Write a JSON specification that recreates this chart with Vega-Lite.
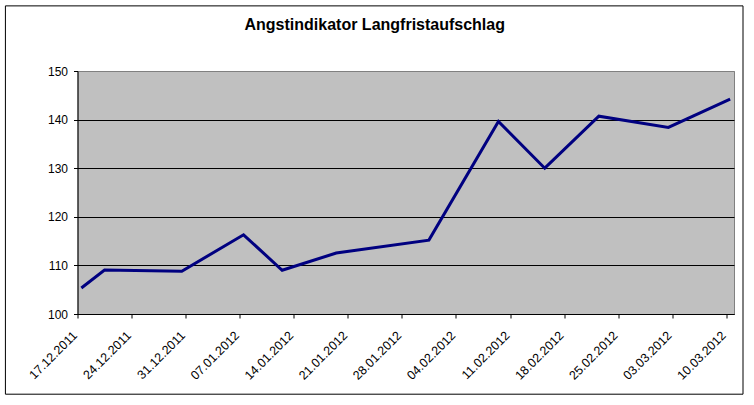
{
  "$schema": "https://vega.github.io/schema/vega-lite/v6.json",
  "width": 656.5,
  "height": 243,
  "autosize": "none",
  "padding": {"left": 77.5, "top": 71, "right": 20, "bottom": 91},
  "background": "white",
  "title": {
    "text": "Angstindikator Langfristaufschlag",
    "font": "Liberation Sans",
    "fontSize": 16,
    "fontWeight": "bold",
    "color": "black",
    "anchor": "middle",
    "frame": "group",
    "dx": -31,
    "offset": -41,
    "baseline": "alphabetic"
  },
  "layer": [
    {
      "data": {
        "values": [
          {"Datum": "17.12.2011", "Wert": 105.35},
          {"Datum": "20.12.2011", "Wert": 109.05},
          {"Datum": "30.12.2011", "Wert": 108.8},
          {"Datum": "07.01.2012", "Wert": 116.3},
          {"Datum": "12.01.2012", "Wert": 109.0},
          {"Datum": "19.01.2012", "Wert": 112.55},
          {"Datum": "31.01.2012", "Wert": 115.2},
          {"Datum": "09.02.2012", "Wert": 139.6},
          {"Datum": "15.02.2012", "Wert": 130.0},
          {"Datum": "22.02.2012", "Wert": 140.7},
          {"Datum": "02.03.2012", "Wert": 138.4},
          {"Datum": "10.03.2012", "Wert": 144.2}
        ],
        "format": {"parse": {"Datum": "date:'%d.%m.%Y'"}}
      },
      "mark": {"type": "line", "color": "#000080", "strokeWidth": 3},
      "encoding": {
        "x": {
          "field": "Datum",
          "type": "temporal",
          "timeUnit": "yearmonthdate",
          "bandPosition": 0.5,
          "title": null,
          "scale": {
            "domain": [
              {"year": 2011, "month": 12, "date": 17},
              {"year": 2012, "month": 3, "date": 11}
            ],
            "nice": false
          },
          "axis": {
            "values": [
              {"year": 2011, "month": 12, "date": 17},
              {"year": 2011, "month": 12, "date": 24},
              {"year": 2011, "month": 12, "date": 31},
              {"year": 2012, "month": 1, "date": 7},
              {"year": 2012, "month": 1, "date": 14},
              {"year": 2012, "month": 1, "date": 21},
              {"year": 2012, "month": 1, "date": 28},
              {"year": 2012, "month": 2, "date": 4},
              {"year": 2012, "month": 2, "date": 11},
              {"year": 2012, "month": 2, "date": 18},
              {"year": 2012, "month": 2, "date": 25},
              {"year": 2012, "month": 3, "date": 3},
              {"year": 2012, "month": 3, "date": 10}
            ],
            "format": "%d.%m.%Y",
            "labelAngle": -45,
            "labelAlign": "right",
            "labelBaseline": "middle",
            "labelPadding": 15,
            "labelOffset": -3,
            "labelOverlap": false,
            "labelFlush": false,
            "labelBound": false,
            "labelFontSize": 12.5,
            "tickSize": 4,
            "grid": false
          }
        },
        "y": {
          "field": "Wert",
          "type": "quantitative",
          "title": null,
          "scale": {"domain": [100, 150], "nice": false, "zero": false},
          "axis": {
            "values": [100, 110, 120, 130, 140, 150],
            "grid": true,
            "gridColor": {"condition": {"test": "datum.value === 150", "value": "#808080"}, "value": "black"},
            "gridOpacity": 1,
            "tickSize": 4,
            "labelPadding": 6
          }
        }
      }
    },
    {
      "data": {"values": [{}]},
      "mark": {"type": "rect", "fill": null, "stroke": "black", "strokeWidth": 1, "clip": false},
      "encoding": {
        "x": {"datum": {"year": 2011, "month": 12, "date": 7, "hours": 16}, "type": "temporal"},
        "x2": {"datum": {"year": 2012, "month": 3, "date": 12, "hours": 4}},
        "y": {"datum": 163.4, "type": "quantitative"},
        "y2": {"datum": 83.5}
      }
    }
  ],
  "config": {
    "view": {"fill": "#C0C0C0", "stroke": "#808080", "strokeWidth": 1},
    "axis": {
      "domainColor": "black",
      "tickColor": "black",
      "labelColor": "black",
      "labelFont": "Liberation Sans",
      "labelFontSize": 12
    }
  }
}
